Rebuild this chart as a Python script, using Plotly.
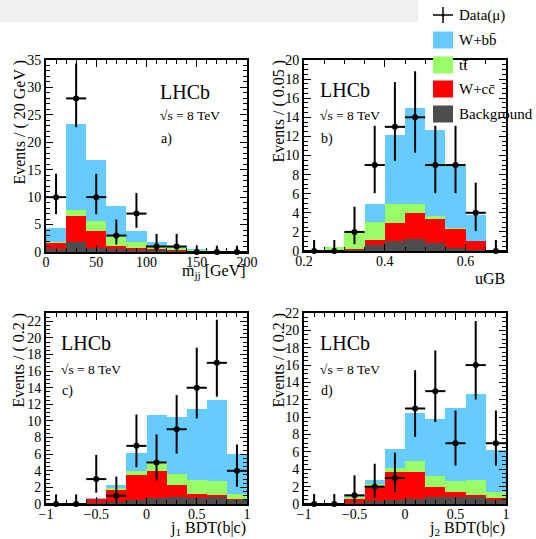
import numpy as np
import plotly.graph_objects as go

W, H = 536, 539
FONT = "Liberation Serif"

# ---------------- data ----------------
# Panel a: m_jj, 20 GeV bins
a_x = [10, 30, 50, 70, 90, 110, 130, 150, 170, 190]
a_bkg = [0.5, 1.8, 0.8, 0.5, 0.3, 0.2, 0.1, 0.05, 0.02, 0.0]
a_wcc = [1.2, 4.7, 3.05, 0.6, 0.4, 0.3, 0.2, 0.05, 0.01, 0.0]
a_tt = [0.05, 1.1, 1.85, 1.65, 1.1, 0.6, 0.4, 0.1, 0.02, 0.02]
a_wbb = [2.7, 15.75, 11.1, 5.65, 2.05, 0.8, 0.4, 0.3, 0.05, 0.03]
a_data = [10, 28, 10, 3, 7, 1, 1, 0, 0, 0]
a_elo = [3.108, 5.261, 3.108, 1.633, 2.580, 0.827, 0.827, 0, 0, 0]
a_ehi = [4.265, 6.353, 4.265, 2.918, 3.770, 2.299, 2.299, 1.148, 1.148, 1.148]

# Panel b: uGB, 0.05 bins
b_x = [0.225, 0.275, 0.325, 0.375, 0.425, 0.475, 0.525, 0.575, 0.625, 0.675]
b_bkg = [0, 0, 0.05, 0.6, 1.05, 1.3, 0.8, 0.3, 0.05, 0]
b_wcc = [0, 0.02, 0.1, 0.55, 1.9, 2.7, 2.55, 2.0, 0.95, 0]
b_tt = [0, 0.38, 1.75, 1.9, 2.02, 0.87, 0.35, 0.1, 0.1, 0]
b_wbb = [0, 0.0, 0.1, 1.85, 7.13, 10.08, 9.0, 6.47, 2.7, 0]
b_data = [0, 0, 2, 9, 13, 14, 9, 9, 4, 0]
b_elo = [0, 0, 1.291, 2.943, 3.558, 3.698, 2.943, 2.943, 1.914, 0]
b_ehi = [1.148, 1.148, 2.637, 4.110, 4.690, 4.822, 4.110, 4.110, 3.162, 1.148]

# Panel c: j1 BDT(b|c), 0.2 bins
c_x = [-0.9, -0.7, -0.5, -0.3, -0.1, 0.1, 0.3, 0.5, 0.7, 0.9]
c_bkg = [0, 0, 0.1, 0.3, 0.45, 0.7, 0.85, 0.7, 0.9, 0.5]
c_wcc = [0, 0, 0.5, 1.4, 3.05, 3.3, 1.45, 0.55, 0.15, 0.05]
c_tt = [0, 0, 0.05, 0.2, 0.5, 1.0, 1.3, 1.6, 1.75, 0.65]
c_wbb = [0, 0, 0.05, 0.4, 2.1, 5.7, 6.9, 8.55, 9.75, 4.8]
c_data = [0, 0, 3, 1, 7, 5, 9, 14, 17, 4]
c_elo = [0, 0, 1.633, 0.827, 2.580, 2.159, 2.943, 3.698, 4.084, 1.914]
c_ehi = [1.148, 1.148, 2.918, 2.299, 3.770, 3.382, 4.110, 4.822, 5.189, 3.162]

# Panel d: j2 BDT(b|c), 0.2 bins
d_x = [-0.9, -0.7, -0.5, -0.3, -0.1, 0.1, 0.3, 0.5, 0.7, 0.9]
d_bkg = [0, 0, 0.05, 0.3, 0.5, 0.6, 0.75, 0.8, 0.85, 0.5]
d_wcc = [0, 0, 0.55, 1.7, 3.2, 3.05, 1.25, 0.6, 0.15, 0.15]
d_tt = [0, 0, 0.2, 0.3, 0.5, 1.25, 1.2, 1.3, 1.8, 0.7]
d_wbb = [0, 0, 0.27, 0.5, 2.1, 5.6, 6.6, 8.35, 9.85, 4.9]
d_data = [0, 0, 1, 2, 3, 11, 13, 7, 16, 7]
d_elo = [0, 0, 0.827, 1.291, 1.633, 3.265, 3.558, 2.580, 3.960, 2.580]
d_ehi = [1.148, 1.148, 2.299, 2.637, 2.918, 4.413, 4.690, 3.770, 5.071, 3.770]

legend_labels = ["Data(\u03bc)", "W+bb\u0304", "tt\u0304", "W+cc\u0304", "Background"]
colors = {"wbb": "#66CCFF", "tt": "#99FF66", "wcc": "#FF0000", "bkg": "#4D4D4D"}

# ---------------- helpers ----------------
def px(x):
    return x / W

def py(y):
    return 1 - y / H

panels = [
    dict(ax="", x=a_x, bw=20, bkg=a_bkg, wcc=a_wcc, tt=a_tt, wbb=a_wbb, data=a_data, elo=a_elo, ehi=a_ehi,
         xd=(46, 247), yd=(60, 252), xr=[0, 200], yr=[0, 35], xdt=50, xmdt=10, ydt=5, ymdt=1,
         ylab="Events / ( 20 GeV )", xlab="m<sub>jj</sub> [GeV]", tag="a)", ylabx=19, xlaby=271),
    dict(ax="2", x=b_x, bw=0.05, bkg=b_bkg, wcc=b_wcc, tt=b_tt, wbb=b_wbb, data=b_data, elo=b_elo, ehi=b_ehi,
         xd=(304, 506), yd=(60, 251), xr=[0.2, 0.7], yr=[0, 20], xdt=0.2, xmdt=0.05, ydt=2, ymdt=0.5,
         ylab="Events / ( 0.05 )", xlab="uGB", tag="b)", ylabx=278, xlaby=278),
    dict(ax="3", x=c_x, bw=0.2, bkg=c_bkg, wcc=c_wcc, tt=c_tt, wbb=c_wbb, data=c_data, elo=c_elo, ehi=c_ehi,
         xd=(46, 247), yd=(313, 504), xr=[-1, 1], yr=[0, 23], xdt=0.5, xmdt=0.1, ydt=2, ymdt=0.5,
         ylab="Events / ( 0.2 )", xlab="j<sub>1</sub> BDT(b|c)", tag="c)", ylabx=18, xlaby=528),
    dict(ax="4", x=d_x, bw=0.2, bkg=d_bkg, wcc=d_wcc, tt=d_tt, wbb=d_wbb, data=d_data, elo=d_elo, ehi=d_ehi,
         xd=(304, 506), yd=(313, 504), xr=[-1, 1], yr=[0, 22], xdt=0.5, xmdt=0.1, ydt=2, ymdt=0.5,
         ylab="Events / ( 0.2 )", xlab="j<sub>2</sub> BDT(b|c)", tag="d)", ylabx=278, xlaby=528),
]

fig = go.Figure()
annotations = []
shapes = []
layout_axes = {}

# top banner (screenshot strip)
shapes.append(dict(type="rect", xref="paper", yref="paper", x0=0, x1=px(418), y0=py(22), y1=1.0,
                   fillcolor="#F0F0F0", line=dict(width=0), layer="above"))

for p in panels:
    xa, ya = "x" + p["ax"], "y" + p["ax"]
    bkg = np.array(p["bkg"])
    wcc = bkg + np.array(p["wcc"])
    tt = wcc + np.array(p["tt"])
    wbb = tt + np.array(p["wbb"])
    for vals, key in [(wbb, "wbb"), (tt, "tt"), (wcc, "wcc"), (bkg, "bkg")]:
        fig.add_trace(go.Bar(x=p["x"], y=vals, width=p["bw"], marker=dict(color=colors[key], line=dict(width=0)),
                             opacity=1, xaxis=xa, yaxis=ya, showlegend=False, hoverinfo="skip"))
    fig.add_trace(go.Scatter(
        x=p["x"], y=p["data"], mode="markers", xaxis=xa, yaxis=ya, showlegend=False, cliponaxis=False,
        marker=dict(color="black", size=6), hoverinfo="skip",
        error_y=dict(type="data", symmetric=False, array=p["ehi"], arrayminus=p["elo"], color="black", thickness=2, width=0),
        error_x=dict(type="constant", value=p["bw"] / 2, color="black", thickness=2, width=0),
    ))
    common = dict(showline=True, linewidth=2, linecolor="black", mirror="ticks", ticks="inside",
                  ticklen=7, tickwidth=1.2, tickcolor="black", showgrid=False, zeroline=False,
                  automargin=False, tickfont=dict(family=FONT, size=14, color="black"))
    layout_axes["xaxis" + p["ax"]] = dict(common, domain=[px(p["xd"][0]), px(p["xd"][1])], anchor=ya,
                                          range=p["xr"], dtick=p["xdt"], tick0=0, ticklabelstandoff=-4,
                                          minor=dict(dtick=p["xmdt"], ticks="inside", ticklen=4, tickcolor="black", tickwidth=1.2))
    layout_axes["yaxis" + p["ax"]] = dict(common, domain=[py(p["yd"][1]), py(p["yd"][0])], anchor=xa,
                                          range=p["yr"], dtick=p["ydt"], tick0=0,
                                          minor=dict(dtick=p["ymdt"], ticks="inside", ticklen=4, tickcolor="black", tickwidth=1.2))
    # axis titles
    annotations.append(dict(text=p["ylab"], x=px(p["ylabx"]), y=py(p["yd"][0] - 2), xref="paper", yref="paper",
                            xanchor="center", yanchor="top", textangle=-90, showarrow=False,
                            font=dict(family=FONT, size=16, color="black")))
    annotations.append(dict(text=p["xlab"], x=px(p["xd"][1] + 1), y=py(p["xlaby"]), xref="paper", yref="paper",
                            xanchor="right", yanchor="middle", showarrow=False,
                            font=dict(family=FONT, size=16, color="black")))
    # LHCb labels
    if p["ax"] == "":
        lx, ly = 158, (92, 116, 139)
    elif p["ax"] == "2":
        lx, ly = 318, (90, 115, 139)
    elif p["ax"] == "3":
        lx, ly = 59, (343, 369, 391)
    else:
        lx, ly = 318, (343, 369, 391)
    annotations.append(dict(text="LHCb", x=px(lx), y=py(ly[0]), xref="paper", yref="paper", xanchor="left",
                            yanchor="middle", showarrow=False, font=dict(family=FONT, size=20, color="black")))
    annotations.append(dict(text="\u221as = 8 TeV", x=px(lx), y=py(ly[1]), xref="paper", yref="paper", xanchor="left",
                            yanchor="middle", showarrow=False, font=dict(family=FONT, size=13.5, color="black")))
    annotations.append(dict(text=p["tag"], x=px(lx + 1), y=py(ly[2]), xref="paper", yref="paper", xanchor="left",
                            yanchor="middle", showarrow=False, font=dict(family=FONT, size=14, color="black")))

# legend (drawn manually)
leg_y = [15, 40, 65, 89, 114]
shapes.append(dict(type="line", xref="paper", yref="paper", x0=px(433), x1=px(453), y0=py(leg_y[0]), y1=py(leg_y[0]),
                   line=dict(color="black", width=1.5)))
shapes.append(dict(type="line", xref="paper", yref="paper", x0=px(443), x1=px(443), y0=py(leg_y[0] - 8), y1=py(leg_y[0] + 8),
                   line=dict(color="black", width=1.5)))
shapes.append(dict(type="circle", xref="paper", yref="paper", x0=px(441.5), x1=px(444.5), y0=py(leg_y[0] + 1.5),
                   y1=py(leg_y[0] - 1.5), fillcolor="black", line=dict(width=0)))
for yy, key in zip(leg_y[1:], ["wbb", "tt", "wcc", "bkg"]):
    shapes.append(dict(type="rect", xref="paper", yref="paper", x0=px(433), x1=px(453), y0=py(yy + 8.5), y1=py(yy - 8.5),
                       fillcolor=colors[key], line=dict(width=0)))
for yy, lab in zip(leg_y, legend_labels):
    annotations.append(dict(text=lab, x=px(457), y=py(yy), xref="paper", yref="paper", xanchor="left",
                            yanchor="middle", showarrow=False, font=dict(family=FONT, size=15, color="black")))

fig.update_layout(
    template="none",
    width=W, height=H, margin=dict(l=0, r=0, t=0, b=0, pad=0, autoexpand=False),
    paper_bgcolor="white", plot_bgcolor="white",
    font=dict(family=FONT, color="black"),
    barmode="overlay", bargap=0, showlegend=False, hovermode=False,
    annotations=annotations, shapes=shapes,
    **layout_axes,
)

fig.write_html("out.html", config={"displayModeBar": False},
               post_script="document.body.style.margin='0';document.body.style.overflow='hidden';")
